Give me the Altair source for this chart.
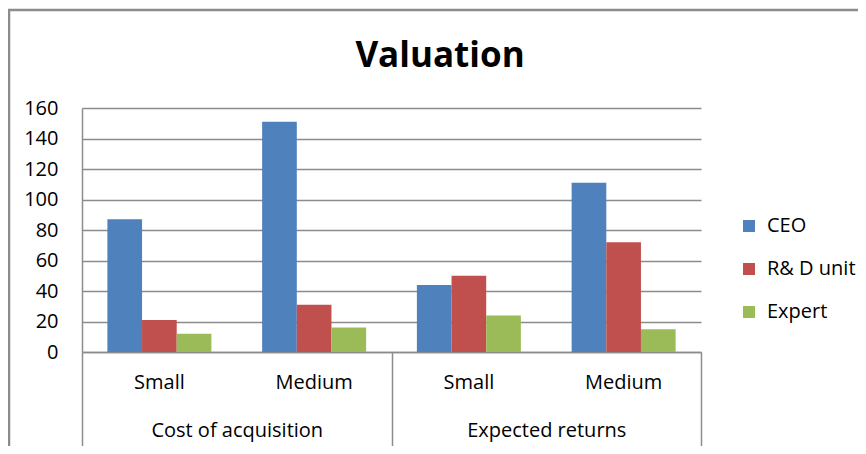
import altair as alt
import pandas as pd

# ---- data ----
title_text = ["Valuation"]
groups = ["Cost of acquisition", "Cost of acquisition", "Expected returns", "Expected returns"]
sizes = ["Small", "Medium", "Small", "Medium"]
group_names = ["Cost of acquisition", "Expected returns"]
series = ["CEO", "R& D unit", "Expert"]
ceo = [87, 151, 44, 111]
rnd = [21, 31, 50, 72]
expert = [12, 16, 24, 15]
colors = ["#4F81BD", "#C0504D", "#9BBB59"]
y_ticks = [0, 20, 40, 60, 80, 100, 120, 140, 160]

keys = [f"{g}|{s}" for g, s in zip(groups, sizes)]
rows = []
for name, vals in zip(series, [ceo, rnd, expert]):
    for k, v in zip(keys, vals):
        rows.append({"key": k, "series": name, "value": v})
df = pd.DataFrame(rows)
gdf = pd.DataFrame({"group": group_names})

GRAY = "#8c8c8c"
FONT = "Open Sans"

bars = alt.Chart(df).mark_bar().encode(
    x=alt.X(
        "key:N", sort=keys,
        scale=alt.Scale(paddingInner=0.328, paddingOuter=0.164),
        axis=alt.Axis(title=None, labelExpr="split(datum.label, '|')[1]",
                      domain=False, ticks=False, labelAngle=0, labelPadding=20,
                      labelFontSize=20, grid=False, orient="bottom"),
    ),
    xOffset=alt.XOffset("series:N", sort=series,
                        scale=alt.Scale(paddingInner=0, paddingOuter=0)),
    y=alt.Y(
        "value:Q", scale=alt.Scale(domain=[0, 160], nice=False),
        axis=alt.Axis(values=y_ticks, title=None, grid=True, gridColor=GRAY,
                      gridWidth=1.5, ticks=False, labelPadding=24, labelFontSize=20,
                      domain=True, domainColor=GRAY, domainWidth=1.5),
    ),
    color=alt.Color(
        "series:N", sort=series,
        scale=alt.Scale(domain=series, range=colors),
        legend=alt.Legend(orient="none", legendX=657, legendY=108, title=None,
                          symbolType="square", symbolSize=144, rowPadding=23,
                          labelFontSize=20, labelOffset=8, padding=0,
                          symbolStrokeWidth=0, labelFont=FONT, labelColor="#000"),
    ),
)

group_axis = alt.Chart(gdf).mark_bar(opacity=0).encode(
    x=alt.X(
        "group:N", sort=group_names,
        scale=alt.Scale(type="band", paddingInner=0, paddingOuter=0),
        axis=alt.Axis(title=None, orient="bottom", labelAngle=0, domain=True,
                      domainColor=GRAY, domainWidth=1.5, ticks=True,
                      tickBand="extent", tickSize=102, tickColor=GRAY,
                      tickWidth=1.5, labelPadding=-34, labelFontSize=20, grid=False),
    ),
)

title = alt.Chart(pd.DataFrame({"t": title_text})).mark_text(
    font=FONT, fontSize=35, fontWeight="bold", color="#000",
    align="center", baseline="alphabetic",
).encode(text="t:N", x=alt.value(358), y=alt.value(-41))

one = pd.DataFrame({"a": [0]})
left_border = alt.Chart(one).mark_rule(color=GRAY, strokeWidth=2.5).encode(
    x=alt.value(-73), y=alt.value(-99), y2=alt.value(338))
top_border = alt.Chart(one).mark_rule(color=GRAY, strokeWidth=2.5).encode(
    x=alt.value(-74), x2=alt.value(776), y=alt.value(-98))

chart = alt.layer(group_axis, bars, title, left_border, top_border).resolve_scale(
    x="independent"
).properties(
    width=619, height=244,
    autosize=alt.AutoSizeParams(type="none"),
    padding={"left": 74, "top": 100, "right": 157, "bottom": 94},
    background="white",
).configure_view(stroke=None).configure_axis(
    labelFont=FONT, labelColor="#000"
)

chart.save("out.html", embed_options={"renderer": "svg", "actions": False})
